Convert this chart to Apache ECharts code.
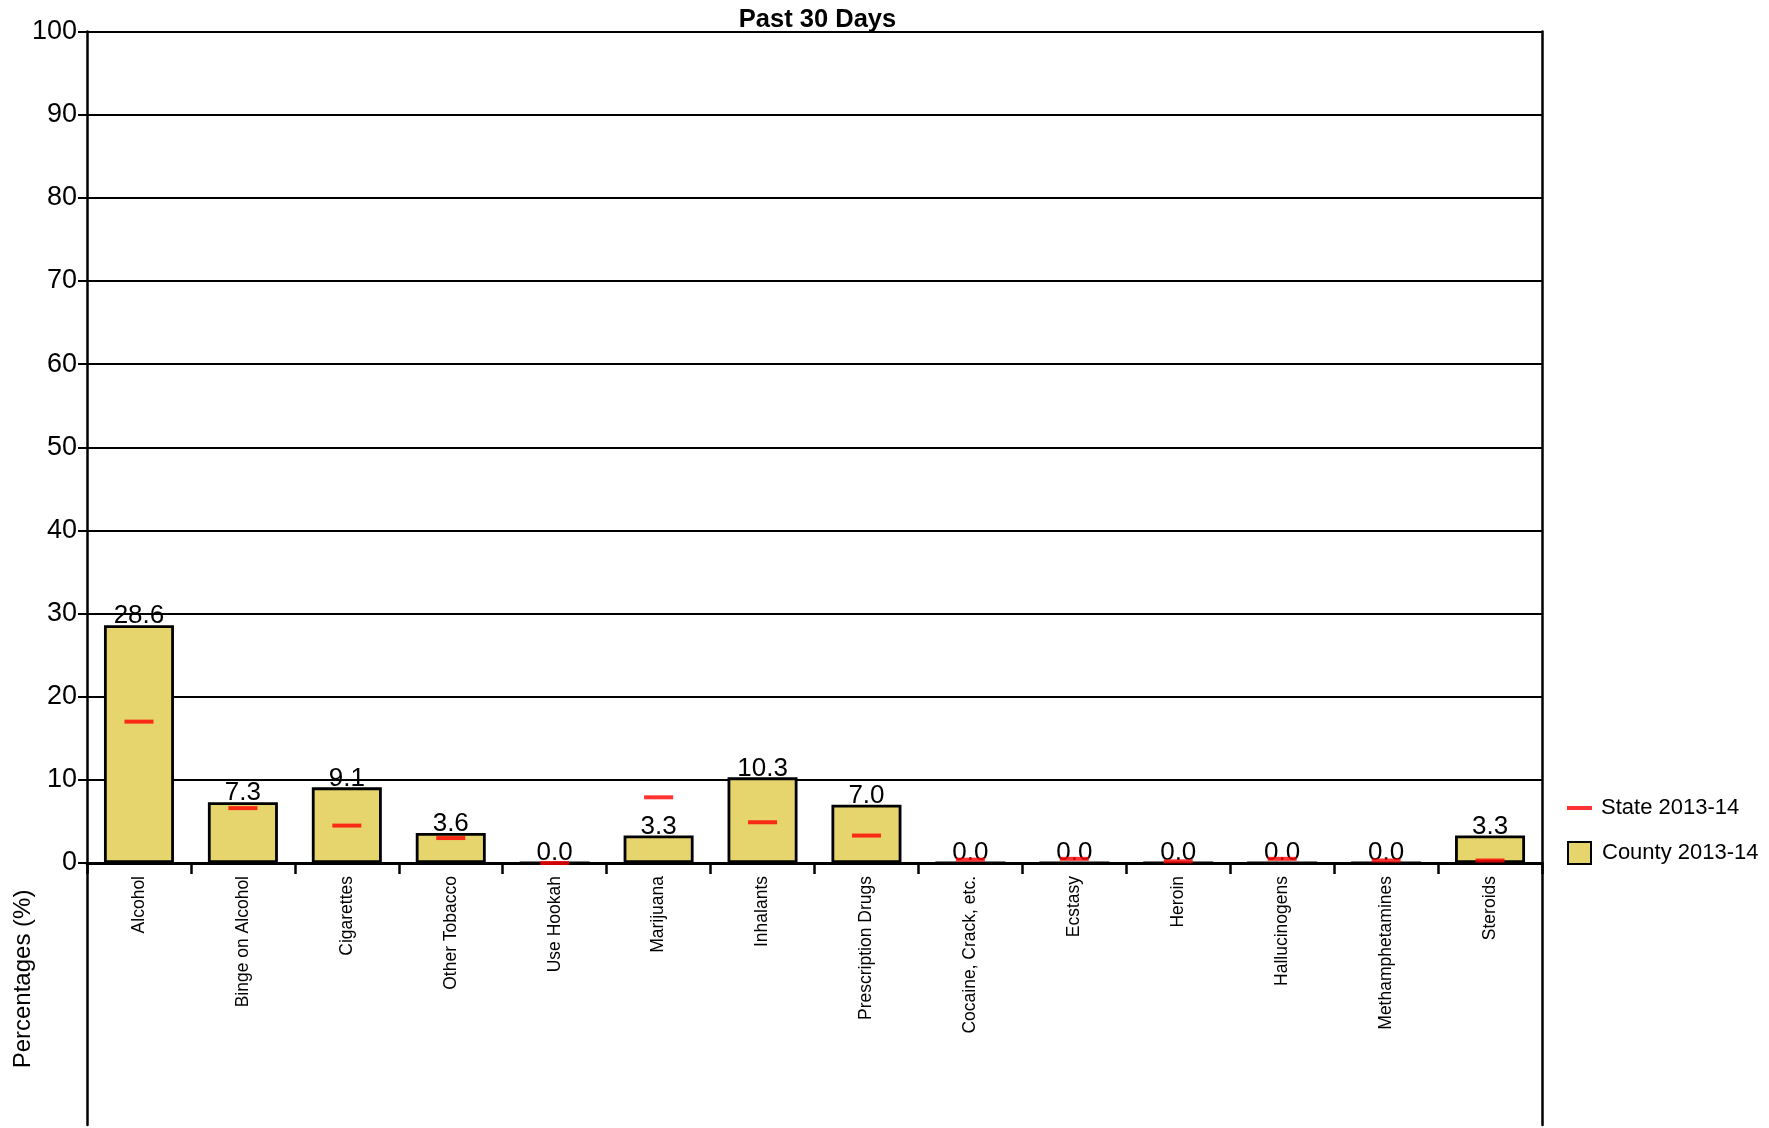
<!DOCTYPE html>
<html>
<head>
<meta charset="utf-8">
<script src="https://cdn.jsdelivr.net/npm/echarts@6/dist/echarts.min.js"></script>
<style>
html,body{margin:0;padding:0;background:#fff;}
#chart{width:1769px;height:1128px;}
</style>
</head>
<body>
<div id="chart"></div>
<script>
const categories = ['Alcohol','Binge on Alcohol','Cigarettes','Other Tobacco','Use Hookah','Marijuana','Inhalants','Prescription Drugs','Cocaine, Crack, etc.','Ecstasy','Heroin','Hallucinogens','Methamphetamines','Steroids'];
const countyValues = [28.6, 7.3, 9.1, 3.6, 0.0, 3.3, 10.3, 7.0, 0.0, 0.0, 0.0, 0.0, 0.0, 3.3];
const stateValues = [17.0, 6.6, 4.5, 3.0, 0.0, 7.9, 4.9, 3.3, 0.4, 0.5, 0.2, 0.5, 0.3, 0.3];
const yTicks = [0, 10, 20, 30, 40, 50, 60, 70, 80, 90, 100];
const titleText = 'Past 30 Days';
const yAxisName = 'Percentages (%)';
const countyName = 'County 2013-14';
const stateName = 'State 2013-14';

const FONT = "'Liberation Sans', Arial, sans-serif";
const chart = echarts.init(document.getElementById('chart'));
const gridL = 87, gridR = 227;
chart.setOption({
  backgroundColor: '#ffffff',
  animation: false,
  textStyle: { fontFamily: FONT, color: '#000' },
  title: {
    text: titleText,
    left: gridL + (1769 - gridL - gridR) / 2 - 2,
    textAlign: 'center',
    top: 2,
    textStyle: { fontFamily: FONT, fontSize: 25.5, fontWeight: 'bold', color: '#000' }
  },
  legend: [
    {
      data: [{ name: stateName, icon: 'rect' }],
      orient: 'vertical',
      left: 1562,
      top: 792,
      itemWidth: 25,
      itemHeight: 4,
      textStyle: { fontFamily: FONT, fontSize: 22, color: '#000', padding: [0,0,0,4] },
      selectedMode: false
    },
    {
      data: [{ name: countyName, icon: 'rect' }],
      orient: 'vertical',
      left: 1562,
      top: 836,
      itemWidth: 23,
      itemHeight: 22,
      textStyle: { fontFamily: FONT, fontSize: 22, color: '#000', padding: [0,0,0,6] },
      selectedMode: false
    }
  ],
  grid: [
    { left: gridL, right: gridR, top: 31.5, bottom: 265, containLabel: false },
    { left: gridL, right: gridR, top: 863, bottom: 3, containLabel: false }
  ],
  xAxis: [
    {
      type: 'category',
      gridIndex: 0,
      data: categories,
      boundaryGap: true,
      axisLine: { show: true, lineStyle: { color: '#000', width: 3 } },
      axisTick: { show: true, length: 11, interval: 0, lineStyle: { color: '#000', width: 2.5 } },
      axisLabel: { interval: 0, rotate: 90, margin: 13, fontFamily: FONT, fontSize: 17.5, color: '#000' },
      z: 5
    },
    { type: 'value', gridIndex: 1, show: false, min: 0, max: 1 }
  ],
  yAxis: [
    {
      type: 'value',
      gridIndex: 0,
      min: yTicks[0],
      max: yTicks[yTicks.length - 1],
      interval: 10,
      axisLine: { show: true, lineStyle: { color: '#000', width: 2.5 } },
      axisTick: { show: true, length: 9, lineStyle: { color: '#000', width: 2 } },
      axisLabel: { margin: 10, fontFamily: FONT, fontSize: 27, color: '#000' },
      splitLine: { show: true, lineStyle: { color: '#000', width: 2 } }
    },
    {
      type: 'value',
      gridIndex: 0,
      position: 'right',
      min: 0, max: 100, interval: 10,
      axisLine: { show: true, lineStyle: { color: '#000', width: 2.5 } },
      axisTick: { show: false },
      axisLabel: { show: false },
      splitLine: { show: false }
    },
    {
      type: 'value',
      gridIndex: 1,
      min: 0, max: 1,
      name: yAxisName,
      nameLocation: 'middle',
      nameGap: 52,
      nameTextStyle: { fontFamily: FONT, fontSize: 24, color: '#000', padding: [0, 0, 0, 30] },
      axisLine: { show: true, onZero: false, lineStyle: { color: '#000', width: 2.5 } },
      axisTick: { show: false },
      axisLabel: { show: false },
      splitLine: { show: false }
    },
    {
      type: 'value',
      gridIndex: 1,
      position: 'right',
      min: 0, max: 1,
      axisLine: { show: true, onZero: false, lineStyle: { color: '#000', width: 2.5 } },
      axisTick: { show: false },
      axisLabel: { show: false },
      splitLine: { show: false }
    }
  ],
  series: [
    {
      name: countyName,
      type: 'bar',
      xAxisIndex: 0,
      yAxisIndex: 0,
      data: countyValues,
      barWidth: 70,
      itemStyle: { color: '#E6D56C', borderColor: '#000', borderWidth: 2.8 },
      label: {
        show: true,
        position: 'top',
        distance: -4,
        fontFamily: FONT,
        fontSize: 26,
        color: '#000',
        formatter: p => p.value.toFixed(1)
      },
      z: 2
    },
    {
      name: stateName,
      type: 'scatter',
      xAxisIndex: 0,
      yAxisIndex: 0,
      data: stateValues,
      symbol: 'rect',
      symbolSize: [29, 4],
      itemStyle: { color: '#FF0000' },
      z: 10
    }
  ]
});
</script>
</body>
</html>
